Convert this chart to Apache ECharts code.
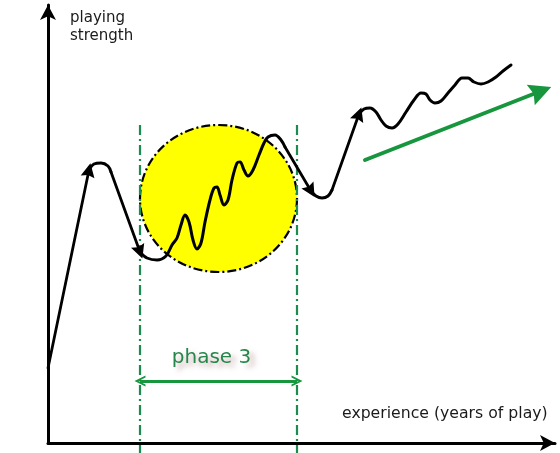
<!DOCTYPE html>
<html>
<head>
<meta charset="utf-8">
<script src="https://cdn.jsdelivr.net/npm/echarts@6/dist/echarts.min.js"></script>
<style>html,body{margin:0;padding:0;background:#fff}#c{width:560px;height:453px}</style>
</head>
<body>
<div id="c"></div>
<script>
// Data (x = experience, y = playing strength)
var riseArrow1 = [[0, 75], [41, 273]];
var curve1 = [[41, 273], [46, 279], [53, 280], [60, 277], [63, 271]];
var fallArrow1 = [[63, 271], [92, 191]];
var curve2 = [[92, 191], [99, 185], [109, 183], [118, 187], [124, 198], [129, 205], [133, 218], [137, 228], [141, 221], [145, 203], [149, 194], [153, 200], [157, 221], [162, 243], [166, 255], [169, 256], [172, 248], [176, 238], [180, 243], [184, 263], [189, 280], [192, 281], [196, 273], [200, 267], [205, 273], [211, 288], [216, 300], [220, 306], [227, 308], [233, 303], [237, 296]];
var fallArrow2 = [[237, 296], [263, 252]];
var curve3 = [[263, 252], [268, 247], [274, 245], [280, 247], [284, 253]];
var riseArrow2 = [[284, 253], [311, 329]];
var curve4 = [[311, 329], [316, 334], [322, 335], [328, 331], [333, 323], [338, 317], [344, 315], [350, 319], [358, 331], [366, 343], [373, 350], [378, 349], [382, 343], [387, 340], [393, 342], [400, 350], [407, 358], [414, 365], [420, 365], [426, 361], [433, 359], [440, 361], [448, 366], [455, 372], [463, 378]];
var trendArrow = [[317, 283], [493, 352]];
var phaseStart = 92, phaseEnd = 249;
var phaseTop = 318, phaseBottom = -10, phaseArrowY = 62;
var circle = [[170.5, 244.5, 78.5, 73.5]]; // cx, cy, rx, ry
var labels = { y: 'playing\nstrength', x: 'experience (years of play)', phase: 'phase 3' };

var FONT = 'DejaVu Sans';
var GREEN = '#17963e';
var GREEN_DASH = '#1b8c4e';
var chevron = 'path://M0,10 L5,0 L10,10 L8.2,10 L5,3.6 L1.8,10 Z';
var head = 'path://M5,0 L10,14 L5,12 L0,14 Z';

function smoothLine(data) {
  return { type: 'line', data: data, smooth: 0.35, showSymbol: false, symbol: 'none', z: 5,
    lineStyle: { color: '#000', width: 3, cap: 'round', join: 'round' }, silent: true, animation: false };
}
function arrowLine(data, color, width, size) {
  return { type: 'lines', coordinateSystem: 'cartesian2d', z: 5, animation: false, silent: true,
    symbol: ['none', head], symbolSize: size,
    lineStyle: { color: color, width: width, opacity: 1, cap: 'round' },
    data: [{ coords: data }] };
}

var chart = echarts.init(document.getElementById('c'), null, { renderer: 'canvas' });
chart.setOption({
  animation: false,
  grid: { left: 48, right: 5, top: 5, bottom: 10 },
  xAxis: { type: 'value', min: 0, max: 507, splitLine: { show: false }, axisTick: { show: false }, axisLabel: { show: false },
    axisLine: { show: true, onZero: false, symbol: ['none', 'arrow'], symbolSize: [12, 15], lineStyle: { color: '#000', width: 3 } } },
  yAxis: { type: 'value', min: 0, max: 438, splitLine: { show: false }, axisTick: { show: false }, axisLabel: { show: false },
    axisLine: { show: true, onZero: false, symbol: ['none', 'arrow'], symbolSize: [12, 15], lineStyle: { color: '#000', width: 3 } } },
  graphic: [
    { type: 'text', left: 70, top: 9, style: { text: labels.y, fontFamily: FONT, fontSize: 15, fill: '#1a1a1a', lineHeight: 18 } },
    { type: 'text', left: 342, top: 406, style: { text: labels.x, fontFamily: FONT, fontSize: 15.7, fill: '#1a1a1a' } }
  ],
  series: [
    { type: 'custom', data: circle, z: 1, silent: true, clip: false,
      renderItem: function (params, api) {
        var c = api.coord([api.value(0), api.value(1)]);
        var s = api.size([api.value(2), api.value(3)]);
        return { type: 'ellipse', shape: { cx: c[0], cy: c[1], rx: s[0], ry: s[1] },
          style: { fill: '#ffff00', stroke: '#000', lineWidth: 2.2, lineDash: [9, 3, 2, 3] } };
      } },
    { type: 'lines', coordinateSystem: 'cartesian2d', z: 2, clip: false, silent: true, animation: false,
      lineStyle: { color: GREEN_DASH, width: 2.2, type: [10, 4, 2, 4], opacity: 1 },
      data: [
        { coords: [[phaseStart, phaseTop], [phaseStart, phaseBottom]] },
        { coords: [[phaseEnd, phaseTop], [phaseEnd, phaseBottom]] }
      ] },
    { type: 'lines', coordinateSystem: 'cartesian2d', z: 3, silent: true, animation: false,
      symbol: [chevron, chevron], symbolSize: 11,
      lineStyle: { color: GREEN, width: 2.8, opacity: 1 },
      label: { show: true, position: 'insideMiddleTop', distance: 13, formatter: labels.phase,
        color: '#26874c', fontFamily: FONT, fontSize: 20, padding: [0, 14, 0, 0],
        textShadowColor: 'rgba(160,105,105,0.5)', textShadowBlur: 5, textShadowOffsetX: 5, textShadowOffsetY: 4 },
      data: [{ coords: [[phaseStart, phaseArrowY], [phaseEnd, phaseArrowY]] }] },
    arrowLine(riseArrow1, '#000', 2.8, 14),
    smoothLine(curve1),
    arrowLine(fallArrow1, '#000', 2.8, 14),
    smoothLine(curve2),
    arrowLine(fallArrow2, '#000', 2.8, 14),
    smoothLine(curve3),
    arrowLine(riseArrow2, '#000', 2.8, 14),
    smoothLine(curve4),
    arrowLine(trendArrow, GREEN, 4, 22)
  ]
});
</script>
</body>
</html>
